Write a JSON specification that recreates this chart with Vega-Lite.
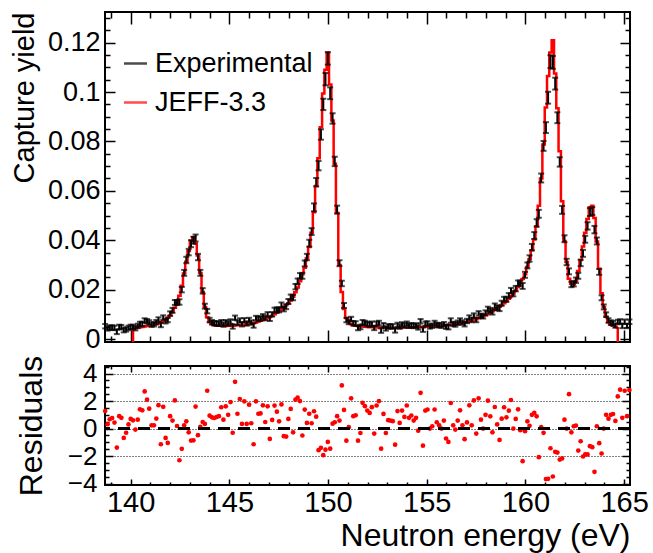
{
"$schema":"https://vega.github.io/schema/vega-lite/v6.json",
"padding":{"left":9,"top":2,"right":5,"bottom":2},
"config":{
 "font":"Liberation Sans",
 "view":{"stroke":"black","strokeWidth":2},
 "axis":{"domain":false,"grid":false,"tickColor":"black","labelColor":"black","titleColor":"black","titleFontWeight":"normal","labelFont":"Liberation Sans","titleFont":"Liberation Sans","labelOverlap":false,"labelFlush":false,"labelBound":false,"tickWidth":1.5}
},
"datasets":{
"drops":[{"e":140.12,"lo":-0.0012,"hi":0.0044},{"e":164.68,"lo":-0.0012,"hi":0.0048}],
"pts":[
{"e":138.71,"y":0.0052,"s":0.0009,"r":1.28},
{"e":138.83,"y":0.0043,"s":0.0009,"r":0.32},
{"e":138.94,"y":0.0046,"s":0.0009,"r":0.68},
{"e":139.06,"y":0.0047,"s":0.0009,"r":0.77},
{"e":139.18,"y":0.0045,"s":0.0009,"r":0.44},
{"e":139.30,"y":0.0029,"s":0.0009,"r":-1.38},
{"e":139.42,"y":0.0049,"s":0.0009,"r":0.9},
{"e":139.53,"y":0.0048,"s":0.0009,"r":0.78},
{"e":139.65,"y":0.0036,"s":0.0009,"r":-0.68},
{"e":139.77,"y":0.0039,"s":0.0009,"r":-0.3},
{"e":139.89,"y":0.0045,"s":0.0009,"r":0.3},
{"e":140.00,"y":0.0049,"s":0.0009,"r":0.7},
{"e":140.12,"y":0.0049,"s":0.0009,"m":0.0044,"r":0.6},
{"e":140.24,"y":0.0044,"s":0.0009,"m":0.0045,"r":-0.07},
{"e":140.36,"y":0.0053,"s":0.0009,"m":0.0047,"r":0.65},
{"e":140.47,"y":0.0061,"s":0.0009,"m":0.0048,"r":1.4},
{"e":140.59,"y":0.0061,"s":0.0009,"m":0.0049,"r":1.33},
{"e":140.71,"y":0.0075,"s":0.0009,"m":0.0051,"r":2.7},
{"e":140.83,"y":0.0072,"s":0.0009,"m":0.0053,"r":2.1},
{"e":140.94,"y":0.0067,"s":0.0009,"m":0.0054,"r":1.45},
{"e":141.06,"y":0.0058,"s":0.0009,"m":0.0056,"r":0.24},
{"e":141.18,"y":0.0060,"s":0.0009,"m":0.0058,"r":0.24},
{"e":141.30,"y":0.0068,"s":0.0009,"m":0.0061,"r":0.73},
{"e":141.41,"y":0.0079,"s":0.0009,"m":0.0064,"r":1.7},
{"e":141.53,"y":0.0057,"s":0.0009,"m":0.0067,"r":-1.14},
{"e":141.65,"y":0.0087,"s":0.0009,"m":0.0073,"r":1.58},
{"e":141.77,"y":0.0072,"s":0.0009,"m":0.0078,"r":-0.68},
{"e":141.88,"y":0.0077,"s":0.0009,"m":0.0086,"r":-1.04},
{"e":142.00,"y":0.0103,"s":0.0009,"m":0.0095,"r":0.9},
{"e":142.12,"y":0.0116,"s":0.0010,"m":0.0110,"r":0.58},
{"e":142.24,"y":0.0148,"s":0.0010,"m":0.0127,"r":2.05},
{"e":142.35,"y":0.0148,"s":0.0010,"m":0.0146,"r":0.19},
{"e":142.47,"y":0.0150,"s":0.0011,"m":0.0175,"r":-2.3},
{"e":142.59,"y":0.0200,"s":0.0011,"m":0.0216,"r":-1.47},
{"e":142.71,"y":0.0268,"s":0.0012,"m":0.0265,"r":0.24},
{"e":142.82,"y":0.0320,"s":0.0013,"m":0.0313,"r":0.53},
{"e":142.94,"y":0.0352,"s":0.0013,"m":0.0356,"r":-0.27},
{"e":143.06,"y":0.0386,"s":0.0014,"m":0.0398,"r":-0.87},
{"e":143.18,"y":0.0400,"s":0.0014,"m":0.0412,"r":-0.85},
{"e":143.29,"y":0.0409,"s":0.0014,"m":0.0387,"r":1.6},
{"e":143.41,"y":0.0332,"s":0.0013,"m":0.0338,"r":-0.48},
{"e":143.53,"y":0.0268,"s":0.0012,"m":0.0267,"r":0.12},
{"e":143.65,"y":0.0195,"s":0.0011,"m":0.0190,"r":0.48},
{"e":143.76,"y":0.0133,"s":0.0010,"m":0.0130,"r":0.34},
{"e":143.88,"y":0.0113,"s":0.0009,"m":0.0088,"r":2.75},
{"e":144.00,"y":0.0077,"s":0.0009,"m":0.0069,"r":0.94},
{"e":144.12,"y":0.0068,"s":0.0009,"m":0.0061,"r":0.82},
{"e":144.23,"y":0.0064,"s":0.0009,"m":0.0057,"r":0.77},
{"e":144.35,"y":0.0063,"s":0.0009,"m":0.0055,"r":0.84},
{"e":144.47,"y":0.0062,"s":0.0009,"m":0.0054,"r":0.9},
{"e":144.59,"y":0.0068,"s":0.0009,"m":0.0054,"r":1.55},
{"e":144.70,"y":0.0059,"s":0.0009,"m":0.0053,"r":0.65},
{"e":144.82,"y":0.0068,"s":0.0009,"m":0.0053,"r":1.62},
{"e":144.94,"y":0.0063,"s":0.0009,"m":0.0054,"r":1.0},
{"e":145.06,"y":0.0071,"s":0.0009,"m":0.0054,"r":1.93},
{"e":145.17,"y":0.0051,"s":0.0009,"m":0.0054,"r":-0.3},
{"e":145.29,"y":0.0086,"s":0.0009,"m":0.0055,"r":3.4},
{"e":145.41,"y":0.0066,"s":0.0009,"m":0.0056,"r":1.08},
{"e":145.53,"y":0.0075,"s":0.0009,"m":0.0056,"r":2.15},
{"e":145.64,"y":0.0060,"s":0.0009,"m":0.0057,"r":0.34},
{"e":145.76,"y":0.0076,"s":0.0009,"m":0.0058,"r":1.98},
{"e":145.88,"y":0.0063,"s":0.0009,"m":0.0060,"r":0.34},
{"e":146.00,"y":0.0077,"s":0.0009,"m":0.0061,"r":1.74},
{"e":146.11,"y":0.0067,"s":0.0009,"m":0.0063,"r":0.39},
{"e":146.23,"y":0.0055,"s":0.0009,"m":0.0065,"r":-1.14},
{"e":146.35,"y":0.0085,"s":0.0009,"m":0.0067,"r":1.98},
{"e":146.47,"y":0.0081,"s":0.0009,"m":0.0071,"r":1.08},
{"e":146.58,"y":0.0084,"s":0.0009,"m":0.0074,"r":1.1},
{"e":146.70,"y":0.0092,"s":0.0009,"m":0.0077,"r":1.69},
{"e":146.82,"y":0.0085,"s":0.0009,"m":0.0081,"r":0.48},
{"e":146.94,"y":0.0100,"s":0.0009,"m":0.0085,"r":1.62},
{"e":147.05,"y":0.0082,"s":0.0009,"m":0.0089,"r":-0.75},
{"e":147.17,"y":0.0100,"s":0.0009,"m":0.0094,"r":0.63},
{"e":147.29,"y":0.0117,"s":0.0010,"m":0.0100,"r":1.67},
{"e":147.41,"y":0.0118,"s":0.0010,"m":0.0106,"r":1.23},
{"e":147.52,"y":0.0118,"s":0.0010,"m":0.0113,"r":0.53},
{"e":147.64,"y":0.0138,"s":0.0010,"m":0.0120,"r":1.76},
{"e":147.76,"y":0.0122,"s":0.0010,"m":0.0128,"r":-0.55},
{"e":147.88,"y":0.0131,"s":0.0010,"m":0.0137,"r":-0.58},
{"e":147.99,"y":0.0152,"s":0.0010,"m":0.0145,"r":0.7},
{"e":148.11,"y":0.0170,"s":0.0010,"m":0.0156,"r":1.43},
{"e":148.23,"y":0.0168,"s":0.0011,"m":0.0171,"r":-0.27},
{"e":148.35,"y":0.0212,"s":0.0011,"m":0.0189,"r":2.1},
{"e":148.46,"y":0.0234,"s":0.0011,"m":0.0209,"r":2.25},
{"e":148.58,"y":0.0256,"s":0.0011,"m":0.0234,"r":2.0},
{"e":148.70,"y":0.0256,"s":0.0012,"m":0.0262,"r":-0.5},
{"e":148.82,"y":0.0306,"s":0.0012,"m":0.0289,"r":1.38},
{"e":148.93,"y":0.0332,"s":0.0013,"m":0.0327,"r":0.41},
{"e":149.05,"y":0.0388,"s":0.0014,"m":0.0373,"r":1.08},
{"e":149.17,"y":0.0435,"s":0.0014,"m":0.0430,"r":0.39},
{"e":149.29,"y":0.0533,"s":0.0016,"m":0.0513,"r":1.26},
{"e":149.40,"y":0.0635,"s":0.0017,"m":0.0620,"r":0.87},
{"e":149.52,"y":0.0702,"s":0.0019,"m":0.0732,"r":-1.57},
{"e":149.64,"y":0.0828,"s":0.0021,"m":0.0857,"r":-1.4},
{"e":149.76,"y":0.0950,"s":0.0023,"m":0.0994,"r":-1.93},
{"e":149.87,"y":0.1052,"s":0.0025,"m":0.1090,"r":-1.53},
{"e":149.99,"y":0.1136,"s":0.0025,"m":0.1160,"r":-0.97},
{"e":150.11,"y":0.0995,"s":0.0024,"m":0.1030,"r":-1.46},
{"e":150.23,"y":0.0893,"s":0.0021,"m":0.0885,"r":0.36},
{"e":150.34,"y":0.0719,"s":0.0019,"m":0.0710,"r":0.46},
{"e":150.46,"y":0.0524,"s":0.0016,"m":0.0510,"r":0.9},
{"e":150.58,"y":0.0307,"s":0.0012,"m":0.0300,"r":0.58},
{"e":150.70,"y":0.0225,"s":0.0011,"m":0.0190,"r":3.14},
{"e":150.81,"y":0.0136,"s":0.0010,"m":0.0122,"r":1.36},
{"e":150.93,"y":0.0077,"s":0.0009,"m":0.0085,"r":-0.88},
{"e":151.05,"y":0.0069,"s":0.0009,"m":0.0068,"r":0.1},
{"e":151.17,"y":0.0081,"s":0.0009,"m":0.0061,"r":2.2},
{"e":151.28,"y":0.0064,"s":0.0009,"m":0.0056,"r":0.9},
{"e":151.40,"y":0.0063,"s":0.0009,"m":0.0054,"r":0.97},
{"e":151.52,"y":0.0045,"s":0.0009,"m":0.0053,"r":-0.88},
{"e":151.64,"y":0.0049,"s":0.0009,"m":0.0052,"r":-0.32},
{"e":151.75,"y":0.0068,"s":0.0009,"m":0.0051,"r":1.87},
{"e":151.87,"y":0.0065,"s":0.0009,"m":0.0050,"r":1.63},
{"e":151.99,"y":0.0061,"s":0.0009,"m":0.0049,"r":1.31},
{"e":152.11,"y":0.0058,"s":0.0009,"m":0.0048,"r":1.14},
{"e":152.22,"y":0.0062,"s":0.0009,"m":0.0048,"r":1.56},
{"e":152.34,"y":0.0045,"s":0.0009,"m":0.0048,"r":-0.36},
{"e":152.46,"y":0.0062,"s":0.0009,"m":0.0047,"r":1.68},
{"e":152.58,"y":0.0065,"s":0.0009,"m":0.0047,"r":2.0},
{"e":152.69,"y":0.0034,"s":0.0009,"m":0.0047,"r":-1.46},
{"e":152.81,"y":0.0056,"s":0.0009,"m":0.0046,"r":1.07},
{"e":152.93,"y":0.0043,"s":0.0009,"m":0.0046,"r":-0.32},
{"e":153.05,"y":0.0051,"s":0.0009,"m":0.0046,"r":0.61},
{"e":153.16,"y":0.0051,"s":0.0009,"m":0.0046,"r":0.58},
{"e":153.28,"y":0.0051,"s":0.0009,"m":0.0046,"r":0.54},
{"e":153.40,"y":0.0035,"s":0.0009,"m":0.0046,"r":-1.17},
{"e":153.52,"y":0.0057,"s":0.0009,"m":0.0046,"r":1.27},
{"e":153.63,"y":0.0050,"s":0.0009,"m":0.0046,"r":0.41},
{"e":153.75,"y":0.0059,"s":0.0009,"m":0.0047,"r":1.31},
{"e":153.87,"y":0.0055,"s":0.0009,"m":0.0047,"r":0.85},
{"e":153.99,"y":0.0062,"s":0.0009,"m":0.0047,"r":1.68},
{"e":154.10,"y":0.0054,"s":0.0009,"m":0.0047,"r":0.78},
{"e":154.22,"y":0.0056,"s":0.0009,"m":0.0047,"r":0.95},
{"e":154.34,"y":0.0053,"s":0.0009,"m":0.0048,"r":0.58},
{"e":154.46,"y":0.0055,"s":0.0009,"m":0.0048,"r":0.78},
{"e":154.57,"y":0.0047,"s":0.0009,"m":0.0048,"r":-0.15},
{"e":154.69,"y":0.0072,"s":0.0009,"m":0.0049,"r":2.6},
{"e":154.81,"y":0.0038,"s":0.0009,"m":0.0049,"r":-1.24},
{"e":154.93,"y":0.0062,"s":0.0009,"m":0.0050,"r":1.31},
{"e":155.04,"y":0.0063,"s":0.0009,"m":0.0050,"r":1.39},
{"e":155.16,"y":0.0051,"s":0.0009,"m":0.0051,"r":0.0},
{"e":155.28,"y":0.0054,"s":0.0009,"m":0.0052,"r":0.17},
{"e":155.40,"y":0.0065,"s":0.0009,"m":0.0052,"r":1.39},
{"e":155.51,"y":0.0057,"s":0.0009,"m":0.0053,"r":0.46},
{"e":155.63,"y":0.0056,"s":0.0009,"m":0.0054,"r":0.24},
{"e":155.75,"y":0.0054,"s":0.0009,"m":0.0054,"r":0.0},
{"e":155.87,"y":0.0060,"s":0.0009,"m":0.0055,"r":0.58},
{"e":155.98,"y":0.0050,"s":0.0009,"m":0.0056,"r":-0.72},
{"e":156.10,"y":0.0048,"s":0.0009,"m":0.0057,"r":-0.97},
{"e":156.22,"y":0.0075,"s":0.0009,"m":0.0058,"r":1.86},
{"e":156.34,"y":0.0061,"s":0.0009,"m":0.0059,"r":0.24},
{"e":156.45,"y":0.0059,"s":0.0009,"m":0.0060,"r":-0.07},
{"e":156.57,"y":0.0066,"s":0.0009,"m":0.0061,"r":0.58},
{"e":156.69,"y":0.0075,"s":0.0009,"m":0.0063,"r":1.33},
{"e":156.81,"y":0.0067,"s":0.0009,"m":0.0065,"r":0.24},
{"e":156.92,"y":0.0060,"s":0.0009,"m":0.0067,"r":-0.77},
{"e":157.04,"y":0.0073,"s":0.0009,"m":0.0069,"r":0.45},
{"e":157.16,"y":0.0087,"s":0.0009,"m":0.0072,"r":1.69},
{"e":157.28,"y":0.0077,"s":0.0009,"m":0.0075,"r":0.24},
{"e":157.39,"y":0.0095,"s":0.0009,"m":0.0077,"r":2.05},
{"e":157.51,"y":0.0077,"s":0.0009,"m":0.0080,"r":-0.36},
{"e":157.63,"y":0.0104,"s":0.0009,"m":0.0084,"r":2.2},
{"e":157.75,"y":0.0094,"s":0.0009,"m":0.0088,"r":0.65},
{"e":157.86,"y":0.0092,"s":0.0009,"m":0.0092,"r":0.0},
{"e":157.98,"y":0.0106,"s":0.0010,"m":0.0096,"r":1.0},
{"e":158.10,"y":0.0121,"s":0.0010,"m":0.0101,"r":2.03},
{"e":158.22,"y":0.0116,"s":0.0010,"m":0.0107,"r":0.89},
{"e":158.33,"y":0.0109,"s":0.0010,"m":0.0112,"r":-0.27},
{"e":158.45,"y":0.0134,"s":0.0010,"m":0.0118,"r":1.57},
{"e":158.57,"y":0.0127,"s":0.0010,"m":0.0124,"r":0.3},
{"e":158.69,"y":0.0123,"s":0.0010,"m":0.0131,"r":-0.82},
{"e":158.80,"y":0.0145,"s":0.0010,"m":0.0138,"r":0.72},
{"e":158.92,"y":0.0161,"s":0.0010,"m":0.0145,"r":1.55},
{"e":159.04,"y":0.0161,"s":0.0010,"m":0.0153,"r":0.82},
{"e":159.16,"y":0.0176,"s":0.0010,"m":0.0163,"r":1.3},
{"e":159.27,"y":0.0196,"s":0.0011,"m":0.0173,"r":2.08},
{"e":159.39,"y":0.0184,"s":0.0011,"m":0.0184,"r":0.0},
{"e":159.51,"y":0.0204,"s":0.0011,"m":0.0196,"r":0.7},
{"e":159.63,"y":0.0226,"s":0.0011,"m":0.0211,"r":1.4},
{"e":159.74,"y":0.0226,"s":0.0011,"m":0.0227,"r":-0.12},
{"e":159.86,"y":0.0215,"s":0.0012,"m":0.0243,"r":-2.37},
{"e":159.98,"y":0.0260,"s":0.0012,"m":0.0262,"r":-0.19},
{"e":160.10,"y":0.0298,"s":0.0012,"m":0.0292,"r":0.53},
{"e":160.21,"y":0.0326,"s":0.0013,"m":0.0323,"r":0.2},
{"e":160.33,"y":0.0372,"s":0.0013,"m":0.0359,"r":1.0},
{"e":160.45,"y":0.0419,"s":0.0014,"m":0.0403,"r":1.14},
{"e":160.57,"y":0.0470,"s":0.0015,"m":0.0457,"r":0.89},
{"e":160.68,"y":0.0507,"s":0.0016,"m":0.0540,"r":-2.08},
{"e":160.80,"y":0.0652,"s":0.0018,"m":0.0650,"r":0.1},
{"e":160.92,"y":0.0782,"s":0.0020,"m":0.0788,"r":-0.31},
{"e":161.04,"y":0.0856,"s":0.0022,"m":0.0937,"r":-3.67},
{"e":161.15,"y":0.0977,"s":0.0024,"m":0.1065,"r":-3.65},
{"e":161.27,"y":0.1123,"s":0.0026,"m":0.1160,"r":-1.43},
{"e":161.39,"y":0.1120,"s":0.0026,"m":0.1210,"r":-3.48},
{"e":161.51,"y":0.1034,"s":0.0024,"m":0.1075,"r":-1.69},
{"e":161.62,"y":0.0896,"s":0.0022,"m":0.0934,"r":-1.74},
{"e":161.74,"y":0.0717,"s":0.0019,"m":0.0760,"r":-2.25},
{"e":161.86,"y":0.0523,"s":0.0016,"m":0.0558,"r":-2.17},
{"e":161.98,"y":0.0406,"s":0.0014,"m":0.0397,"r":0.65},
{"e":162.09,"y":0.0312,"s":0.0013,"m":0.0312,"r":0.0},
{"e":162.21,"y":0.0274,"s":0.0012,"m":0.0244,"r":2.5},
{"e":162.33,"y":0.0221,"s":0.0011,"m":0.0224,"r":-0.27},
{"e":162.45,"y":0.0224,"s":0.0011,"m":0.0222,"r":0.17},
{"e":162.56,"y":0.0238,"s":0.0011,"m":0.0236,"r":0.22},
{"e":162.68,"y":0.0256,"s":0.0012,"m":0.0275,"r":-1.6},
{"e":162.80,"y":0.0308,"s":0.0013,"m":0.0320,"r":-0.92},
{"e":162.92,"y":0.0347,"s":0.0014,"m":0.0375,"r":-2.03},
{"e":163.03,"y":0.0404,"s":0.0014,"m":0.0430,"r":-1.88},
{"e":163.15,"y":0.0458,"s":0.0015,"m":0.0486,"r":-1.88},
{"e":163.27,"y":0.0514,"s":0.0016,"m":0.0534,"r":-1.28},
{"e":163.39,"y":0.0518,"s":0.0016,"m":0.0540,"r":-1.35},
{"e":163.50,"y":0.0443,"s":0.0015,"m":0.0490,"r":-3.14},
{"e":163.62,"y":0.0397,"s":0.0014,"m":0.0395,"r":0.17},
{"e":163.74,"y":0.0272,"s":0.0012,"m":0.0285,"r":-1.06},
{"e":163.86,"y":0.0167,"s":0.0010,"m":0.0185,"r":-1.81},
{"e":163.97,"y":0.0130,"s":0.0010,"m":0.0130,"r":0.0},
{"e":164.09,"y":0.0099,"s":0.0009,"m":0.0090,"r":1.0},
{"e":164.21,"y":0.0075,"s":0.0009,"m":0.0069,"r":0.72},
{"e":164.33,"y":0.0067,"s":0.0009,"m":0.0058,"r":1.0},
{"e":164.44,"y":0.0064,"s":0.0009,"m":0.0054,"r":1.06},
{"e":164.56,"y":0.0055,"s":0.0009,"m":0.0050,"r":0.56},
{"e":164.68,"y":0.0069,"s":0.0009,"m":0.0048,"r":2.34},
{"e":164.80,"y":0.0071,"s":0.0009,"r":2.83},
{"e":164.91,"y":0.0053,"s":0.0009,"r":0.78},
{"e":165.03,"y":0.0070,"s":0.0009,"r":2.75},
{"e":165.15,"y":0.0053,"s":0.0009,"r":0.9},
{"e":165.27,"y":0.0070,"s":0.0009,"r":2.8}
]},
"spacing":24,
"bounds":"flush",
"vconcat":[
{
 "width":525,"height":330,
 "layer":[
  {"data":{"name":"pts"},
   "mark":{"type":"line","interpolate":"step","strokeWidth":2.5},
   "encoding":{
    "x":{"field":"e","type":"quantitative","scale":{"domain":[138.7,165.3],"nice":false,"zero":false},
     "axis":{"orient":"bottom","values":[139,140,141,142,143,144,145,146,147,148,149,150,151,152,153,154,155,156,157,158,159,160,161,162,163,164,165],"labels":false,"title":null,
      "tickSize":{"condition":{"test":"datum.value % 5 === 0","value":-12},"value":-6}}},
    "y":{"field":"m","type":"quantitative","scale":{"domain":[-0.0012,0.1324],"nice":false,"zero":false},
     "axis":{"orient":"left","values":[0,0.005,0.01,0.015,0.02,0.025,0.03,0.035,0.04,0.045,0.05,0.055,0.06,0.065,0.07,0.075,0.08,0.085,0.09,0.095,0.1,0.105,0.11,0.115,0.12,0.125,0.13],
      "labelExpr":"round(datum.value*1000) % 20 === 0 ? format(datum.value, '~g') : ''",
      "labelFontSize":27,"labelPadding":15,"title":"Capture yield","titleFontSize":29,"titleAnchor":"end","titlePadding":8,
      "tickSize":{"condition":{"test":"round(datum.value*1000) % 20 === 0","value":-10},"value":-5}}},
    "color":{"datum":"JEFF-3.3","type":"nominal","scale":{"domain":["Experimental","JEFF-3.3"],"range":["black","red"]},
     "legend":{"orient":"none","legendX":17,"legendY":38,"title":null,"symbolType":"stroke","symbolSize":529,"symbolStrokeWidth":2.5,"labelFontSize":27,"labelFont":"Liberation Sans","labelColor":"black","rowPadding":11,"labelOffset":6,"padding":0}}
   }},
  {"data":{"name":"drops"},
   "mark":{"type":"rule","color":"red","strokeWidth":2.5},
   "encoding":{
    "x":{"field":"e","type":"quantitative","scale":{"domain":[138.7,165.3],"nice":false,"zero":false},"axis":null},
    "y":{"field":"lo","type":"quantitative","scale":{"domain":[-0.0012,0.1324],"nice":false,"zero":false},"axis":null},
    "y2":{"field":"hi"}}},
  {"data":{"name":"pts"},
   "mark":{"type":"errorbar","ticks":true,"size":6,"thickness":2},
   "encoding":{
    "x":{"field":"e","type":"quantitative","scale":{"domain":[138.7,165.3],"nice":false,"zero":false},"axis":null},
    "y":{"field":"y","type":"quantitative","scale":{"domain":[-0.0012,0.1324],"nice":false,"zero":false},"axis":null},
    "yError":{"field":"s"},
    "color":{"datum":"Experimental","type":"nominal"}}},
  {"data":{"name":"pts"},
   "mark":{"type":"point","opacity":0},
   "encoding":{
    "x":{"field":"e","type":"quantitative","scale":{"domain":[138.7,165.3],"nice":false,"zero":false},
     "axis":{"orient":"top","values":[139,140,141,142,143,144,145,146,147,148,149,150,151,152,153,154,155,156,157,158,159,160,161,162,163,164,165],"labels":false,"title":null,
      "tickSize":{"condition":{"test":"datum.value % 5 === 0","value":-12},"value":-6}}},
    "y":{"field":"y","type":"quantitative","scale":{"domain":[-0.0012,0.1324],"nice":false,"zero":false},
     "axis":{"orient":"right","values":[0,0.005,0.01,0.015,0.02,0.025,0.03,0.035,0.04,0.045,0.05,0.055,0.06,0.065,0.07,0.075,0.08,0.085,0.09,0.095,0.1,0.105,0.11,0.115,0.12,0.125,0.13],"labels":false,"title":null,
      "tickSize":{"condition":{"test":"round(datum.value*1000) % 20 === 0","value":-10},"value":-5}}}}}
 ],
 "resolve":{"axis":{"x":"independent","y":"independent"}}
},
{
 "width":525,"height":119,
 "layer":[
  {"data":{"name":"pts"},
   "mark":{"type":"circle","color":"red","size":22,"opacity":1},
   "encoding":{
    "x":{"field":"e","type":"quantitative","scale":{"domain":[138.7,165.3],"nice":false,"zero":false},
     "axis":{"orient":"bottom","values":[139,140,141,142,143,144,145,146,147,148,149,150,151,152,153,154,155,156,157,158,159,160,161,162,163,164,165],
      "labelExpr":"datum.value % 5 === 0 ? datum.label : ''","labelFontSize":29,"labelPadding":9,
      "title":"Neutron energy (eV)","titleFontSize":32,"titleAnchor":"end","titlePadding":0,
      "tickSize":{"condition":{"test":"datum.value % 5 === 0","value":-6},"value":-3}}},
    "y":{"field":"r","type":"quantitative","scale":{"domain":[-4.1,4.55],"nice":false,"zero":false},
     "axis":{"orient":"left","values":[-4,-3.5,-3,-2.5,-2,-1.5,-1,-0.5,0,0.5,1,1.5,2,2.5,3,3.5,4,4.5],
      "labelExpr":"datum.value % 2 === 0 ? format(datum.value, 'd') : ''","labelFontSize":26,"labelPadding":16,
      "title":"Residuals","titleFontSize":32,"titlePadding":19,
      "grid":true,"gridColor":"black","gridDash":[1,2],"gridWidth":1,
      "gridOpacity":{"condition":{"test":"datum.value % 2 === 0","value":1},"value":0},
      "tickSize":{"condition":{"test":"datum.value % 2 === 0","value":-8},"value":-4}}}}},
  {"data":{"values":[{}]},
   "mark":{"type":"rule","color":"black","strokeWidth":3,"strokeDash":[12,8]},
   "encoding":{"y":{"datum":0,"type":"quantitative","scale":{"domain":[-4.1,4.55],"nice":false,"zero":false},"axis":null}}},
  {"data":{"name":"pts"},
   "mark":{"type":"point","opacity":0},
   "encoding":{
    "x":{"field":"e","type":"quantitative","scale":{"domain":[138.7,165.3],"nice":false,"zero":false},
     "axis":{"orient":"top","values":[139,140,141,142,143,144,145,146,147,148,149,150,151,152,153,154,155,156,157,158,159,160,161,162,163,164,165],"labels":false,"title":null,
      "tickSize":{"condition":{"test":"datum.value % 5 === 0","value":-6},"value":-3}}},
    "y":{"field":"r","type":"quantitative","scale":{"domain":[-4.1,4.55],"nice":false,"zero":false},
     "axis":{"orient":"right","values":[-4,-3.5,-3,-2.5,-2,-1.5,-1,-0.5,0,0.5,1,1.5,2,2.5,3,3.5,4,4.5],"labels":false,"title":null,
      "tickSize":{"condition":{"test":"datum.value % 2 === 0","value":-8},"value":-4}}}}}
 ],
 "resolve":{"axis":{"x":"independent","y":"independent"}}
}
]
}
